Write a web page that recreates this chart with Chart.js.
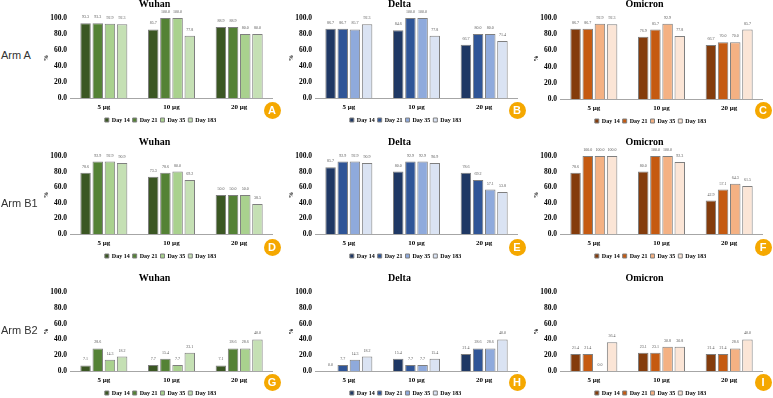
<!DOCTYPE html>
<html>
<head>
<meta charset="utf-8">
<style>
    html, body { margin: 0; padding: 0; background: #fff; width: 773px; height: 398px; overflow: hidden; }
    canvas { position: absolute; }
    .arm { position: absolute; left: 1px; font: 11px "Liberation Sans"; color: #333; }
    .badge {
        position: absolute; width: 17px; height: 17px; border-radius: 50%; background: #f5a800;
        color: #fff; font: bold 11px/17px "Liberation Sans"; text-align: center;
    }
</style>
<script src="https://cdn.jsdelivr.net/npm/chart.js@4"></script>
</head>
<body>
<script>
const doses = ["5 µg", "10 µg", "20 µg"];
const days = ["Day 14", "Day 21", "Day 35", "Day 183"];

// one row per day, one column per dose
const armAWuhan = [[93.3, 85.7, 88.9], [93.3, 100, 88.9], [92.9, 100, 80], [92.3, 77.8, 80]];
const armADelta = [[86.7, 84.6, 66.7], [86.7, 100, 80], [85.7, 100, 80], [92.3, 77.8, 71.4]];
const armAOmicron = [[86.7, 76.9, 66.7], [86.7, 85.7, 70], [92.9, 92.9, 70], [92.3, 77.8, 85.7]];
const armB1Wuhan = [[78.6, 73.3, 50], [92.9, 78.6, 50], [92.9, 80, 50], [90.9, 69.2, 38.5]];
const armB1Delta = [[85.7, 80, 78.6], [92.9, 92.9, 69.2], [92.9, 92.9, 57.1], [90.9, 90.9, 53.8]];
const armB1Omicron = [[78.6, 80, 42.9], [100, 100, 57.1], [100, 100, 64.3], [100, 92.3, 61.5]];
const armB2Wuhan = [[7.1, 7.7, 7.1], [28.6, 15.4, 28.6], [14.3, 7.7, 28.6], [18.2, 23.1, 40]];
const armB2Delta = [[0, 15.4, 21.4], [7.7, 7.7, 28.6], [14.3, 7.7, 28.6], [18.2, 15.4, 40]];
const armB2Omicron = [[21.4, 23.1, 21.4], [21.4, 23.1, 21.4], [0, 30.8, 28.6], [36.4, 30.8, 40]];

const greens = ["#3b5723", "#548235", "#a9d18e", "#c5e0b4"];
const blues = ["#1f3864", "#2f5597", "#8faadc", "#dae3f3"];
const oranges = ["#843c0c", "#c55a11", "#f4b183", "#fbe5d6"];

const serif = "'Liberation Serif'";

// value labels above the bars
const barLabels = {
    id: "barLabels",
    afterDatasetsDraw: function (chart) {
        const ctx = chart.ctx;
        ctx.save();
        ctx.font = "4px " + serif;
        ctx.fillStyle = "#555555";
        ctx.textAlign = "center";
        ctx.textBaseline = "middle";
        chart.data.datasets.forEach((ds, i) => {
            chart.getDatasetMeta(i).data.forEach((bar, j) => {
                ctx.fillText(ds.data[j].toFixed(1), bar.x, bar.y - 6);
            });
        });
        ctx.restore();
    }
};

// legend sits a little right of the title in the original
const legendShift = {
    id: "legendShift",
    afterLayout: function (chart) {
        chart.legend.left += 6;
        chart.legend.right += 6;
    }
};

function createPanel(left, top, plotHeight, title, rows, colors) {
    const canvas = document.createElement("canvas");
    const w = 237;
    const h = 20 + plotHeight + 16 + 19;
    canvas.width = w;
    canvas.height = h;
    canvas.style.width = w + "px";
    canvas.style.height = h + "px";
    canvas.style.left = left + "px";
    canvas.style.top = (top - 20) + "px";
    document.body.appendChild(canvas);

    new Chart(canvas, {
        type: "bar",
        plugins: [barLabels, legendShift],
        data: {
            labels: doses,
            datasets: rows.map((row, i) => ({
                label: days[i],
                data: row,
                backgroundColor: colors[i],
                borderColor: "#7f7f7f",
                borderWidth: 1,
                categoryPercentage: 0.72,
                barPercentage: 0.86
            }))
        },
        options: {
            responsive: false,
            maintainAspectRatio: false,
            animation: false,
            layout: { padding: 0 },
            plugins: {
                tooltip: { enabled: false },
                title: {
                    display: true,
                    text: title,
                    color: "#000000",
                    font: { family: serif, size: 10, weight: "bold", lineHeight: 1.26 },
                    padding: { top: 0, bottom: 7.4 }
                },
                legend: {
                    position: "bottom",
                    labels: {
                        boxWidth: 4,
                        boxHeight: 4,
                        padding: 3,
                        color: "#000000",
                        font: { family: serif, size: 6, weight: "bold" }
                    }
                }
            },
            scales: {
                x: {
                    afterFit: (scale) => { scale.height = 16; },
                    grid: { display: false, drawTicks: false },
                    border: { color: "#a6a6a6", width: 1 },
                    ticks: {
                        color: "#000000",
                        padding: 5,
                        font: { family: serif, size: 7, weight: "bold" },
                        maxRotation: 0
                    }
                },
                y: {
                    min: 0,
                    max: 100,
                    afterFit: (scale) => { scale.width = 34; },
                    grid: { display: false, drawTicks: false },
                    border: { display: false },
                    title: {
                        display: true,
                        text: "%",
                        color: "#000000",
                        padding: { top: 7, bottom: 0 },
                        font: { family: serif, size: 6, weight: "bold" }
                    },
                    ticks: {
                        stepSize: 20,
                        color: "#000000",
                        padding: 3,
                        font: { family: serif, size: 7.5, weight: "bold" },
                        callback: (v) => v.toFixed(1)
                    }
                }
            }
        }
    });
}

createPanel(36, 18, 80, "Wuhan", armAWuhan, greens);
createPanel(281, 18, 80, "Delta", armADelta, blues);
createPanel(526, 18, 81, "Omicron", armAOmicron, oranges);
createPanel(36, 156, 78, "Wuhan", armB1Wuhan, greens);
createPanel(281, 156, 78, "Delta", armB1Delta, blues);
createPanel(526, 156, 78, "Omicron", armB1Omicron, oranges);
createPanel(36, 292, 79, "Wuhan", armB2Wuhan, greens);
createPanel(281, 292, 79, "Delta", armB2Delta, blues);
createPanel(526, 292, 79, "Omicron", armB2Omicron, oranges);

function addText(cls, text, x, y) {
    const el = document.createElement("div");
    el.className = cls;
    el.textContent = text;
    if (x !== null) el.style.left = x + "px";
    el.style.top = y + "px";
    document.body.appendChild(el);
}

addText("arm", "Arm A", null, 49);
addText("arm", "Arm B1", null, 197);
addText("arm", "Arm B2", null, 324);

const badgeLetters = ["A", "B", "C", "D", "E", "F", "G", "H", "I"];
const badgeX = [263.5, 508.5, 754.5];
const badgeY = [102, 238.5, 373.5];
badgeLetters.forEach((letter, i) => {
    addText("badge", letter, badgeX[i % 3], badgeY[Math.floor(i / 3)]);
});
</script>
</body>
</html>
